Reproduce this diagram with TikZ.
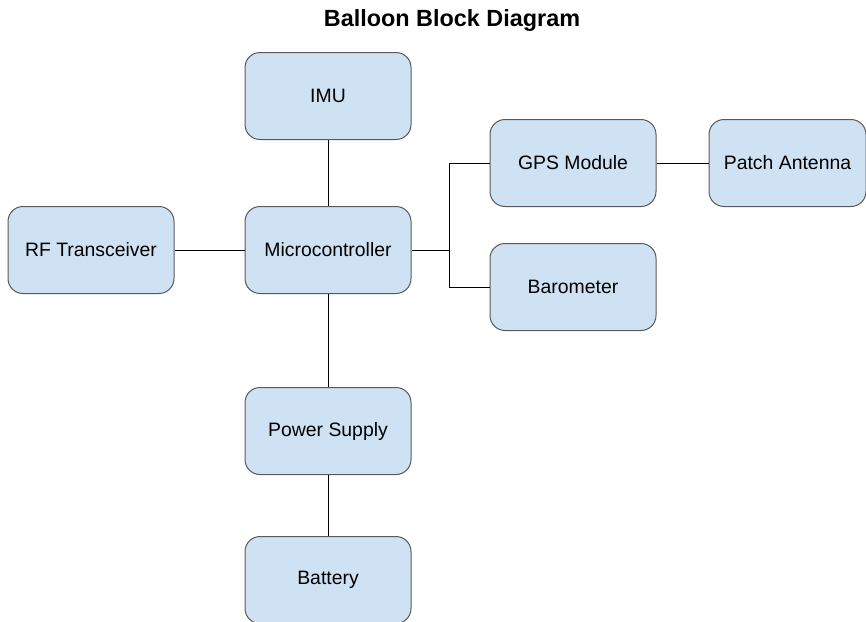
\documentclass[tikz,border=0pt]{standalone}
\usepackage{fontspec}
\setmainfont{Liberation Sans}
\usetikzlibrary{positioning}
\definecolor{boxblue}{HTML}{CFE2F3}
\definecolor{boxline}{HTML}{595959}

\begin{document}
\begin{tikzpicture}[
    x=0.5pt, y=-0.5pt,
    node distance=33pt and 35pt,
    block/.style={
        rectangle,
        rounded corners=7.5pt,
        draw=boxline,
        fill=boxblue,
        line width=0.5pt,
        align=center,
        font=\fontsize{9.7}{11.6}\selectfont,
        minimum width=83pt,
        minimum height=43.5pt
    },
    link/.style={
        line width=0.5pt,
        draw=black
    }
]
\useasboundingbox (0,0) rectangle (866,621);

% title
\node[anchor=base, font=\fontsize{11.7}{14}\selectfont\bfseries] (title) at (452,26)
{Balloon Block Diagram};

% central column
\node[block] (mcu) at (328,250) {Microcontroller};

\node[block, above=of mcu] (imu) {IMU};

\node[block, left=of mcu] (rf) {RF Transceiver};

\node[block, below=46.5pt of mcu] (power) {Power Supply};

\node[block, below=30.5pt of power] (battery) {Battery};

% sensor branch
\node[block, right=39pt of mcu, yshift=43.5pt] (gps) {GPS Module};

\node[block, below=18pt of gps] (baro) {Barometer};

\node[block, right=26pt of gps, minimum width=78.5pt] (patch) {Patch Antenna};

\coordinate[right=19pt of mcu] (split);

% connections
\draw[link] (imu) -- (mcu);
\draw[link] (rf) -- (mcu);
\draw[link] (mcu) -- (power);
\draw[link] (power) -- (battery);
\draw[link] (mcu) -- (split);
\draw[link] (split) |- (gps);
\draw[link] (split) |- (baro);
\draw[link] (gps) -- (patch);

\end{tikzpicture}
\end{document}
